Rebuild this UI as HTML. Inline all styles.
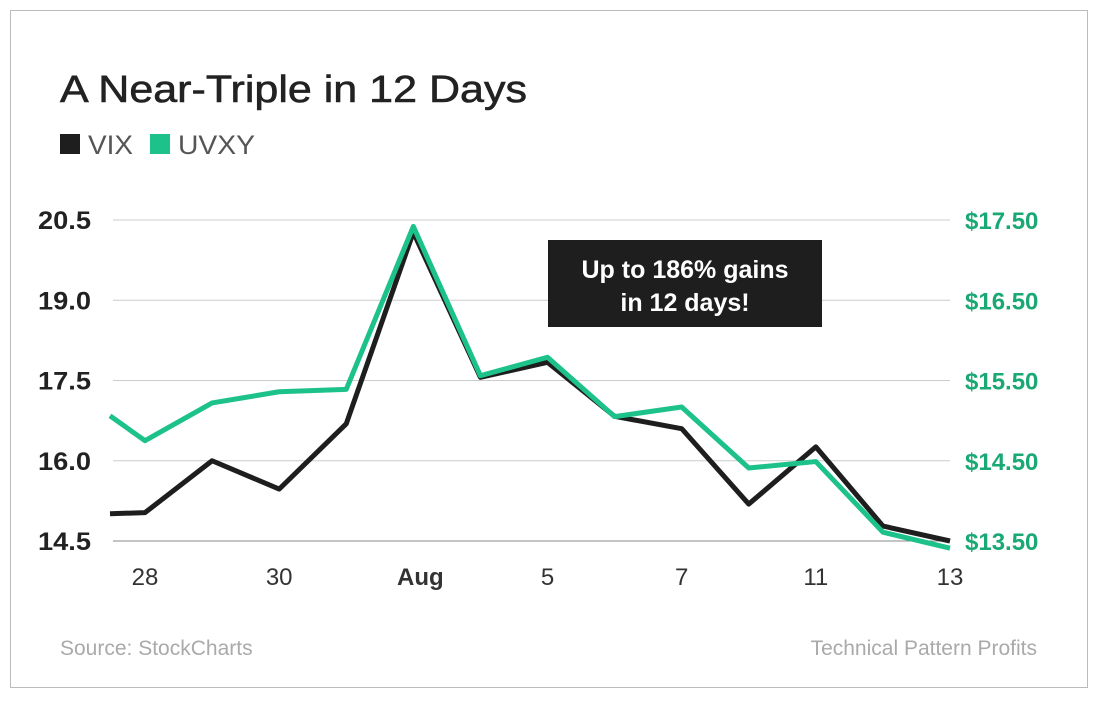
<!DOCTYPE html>
<html><head><meta charset="utf-8"><style>
body{margin:0;width:1100px;height:700px;background:#fff;font-family:"Liberation Sans",Arial,sans-serif;overflow:hidden}
</style></head><body>
<svg width="1100" height="700" xmlns="http://www.w3.org/2000/svg">
<rect x="10.5" y="10.5" width="1077" height="677" fill="#fff" stroke="#bbb"/>
<text x="60" y="102" font-size="38" fill="#222" stroke="#222" stroke-width="0.6" textLength="467" lengthAdjust="spacingAndGlyphs">A Near-Triple in 12 Days</text>
<rect x="60" y="134" width="20" height="20" fill="#1e1e1e"/>
<text x="88" y="154" font-size="27" fill="#555" textLength="45" lengthAdjust="spacingAndGlyphs">VIX</text>
<rect x="150" y="134" width="20" height="20" fill="#1dc28a"/>
<text x="178" y="154" font-size="27" fill="#555" textLength="77" lengthAdjust="spacingAndGlyphs">UVXY</text>
<g id="grid"></g><g id="axes"></g><g id="lines"></g>
<rect x="548" y="240" width="274" height="87" fill="#1e1e1e"/>
<text x="685" y="278" font-size="25" font-weight="bold" fill="#fff" text-anchor="middle">Up to 186% gains</text>
<text x="685" y="311" font-size="25" font-weight="bold" fill="#fff" text-anchor="middle">in 12 days!</text>
<text x="60" y="655" font-size="21" fill="#aaa">Source: StockCharts</text>
<text x="1037" y="655" font-size="21" fill="#aaa" text-anchor="end">Technical Pattern Profits</text>
</svg>
<script>
const categories=["Jul 27","Jul 28","Jul 29","Jul 30","Jul 31","Aug 1","Aug 2","Aug 5","Aug 6","Aug 7","Aug 8","Aug 11","Aug 12","Aug 13"];
const vixValues=[15.01,15.03,16.0,15.47,16.69,20.27,17.56,17.84,16.83,16.6,15.19,16.26,14.78,14.5];
const uvxyValues=[15.06,14.75,15.22,15.36,15.39,17.42,15.56,15.79,15.05,15.17,14.41,14.49,13.61,13.41];
const leftTicks=[14.5,16.0,17.5,19.0,20.5];
const rightTicks=[13.5,14.5,15.5,16.5,17.5];
const xLabels=[{i:1,t:"28"},{i:3,t:"30"},{i:5,t:"Aug",b:true},{i:7,t:"5"},{i:9,t:"7"},{i:11,t:"11"},{i:13,t:"13"}];
const NS="http://www.w3.org/2000/svg";
const x=i=>Math.max(110,145+(i-1)*(950-145)/(categories.length-2));
const yL=v=>541-(v-14.5)/6*321;
const yR=v=>541-(v-13.5)/4*321;
function mk(tag,attrs,parent,text){const e=document.createElementNS(NS,tag);for(const k in attrs)e.setAttribute(k,attrs[k]);if(text!==undefined)e.textContent=text;document.getElementById(parent).appendChild(e);return e;}
leftTicks.forEach((v,k)=>{
 const g=mk('line',{x1:113,x2:950,y1:yL(v),y2:yL(v),stroke:k==0?'#888':'#ccc','stroke-width':1},'grid');
 
 
 const t=mk('text',{x:91,y:yL(v)+9,'font-size':25,'font-weight':'bold',fill:'#222','text-anchor':'end',textLength:53,lengthAdjust:'spacingAndGlyphs'},'axes',v.toFixed(1));
 
 
});
rightTicks.forEach(v=>{
 const t=mk('text',{x:965,y:yR(v)+9,'font-size':24,'font-weight':'bold',fill:'#1aa874'},'axes','$'+v.toFixed(2));
 
 
});
xLabels.forEach(l=>{
 const t=mk('text',{x:x(l.i)+(l.b?7:0),y:585,'font-size':24,'font-weight':l.b?'bold':'normal',fill:'#333','text-anchor':'middle'},'axes',l.t);
 
 
});
const pv=vixValues.map((v,i)=>x(i)+','+yL(v)).join(' ');
const lv=mk('polyline',{points:pv,fill:'none',stroke:'#1e1e1e','stroke-width':5,'stroke-linejoin':'round'},'lines');


const pu=uvxyValues.map((v,i)=>x(i)+','+yR(v)).join(' ');
const lu=mk('polyline',{points:pu,fill:'none',stroke:'#1dc28a','stroke-width':5,'stroke-linejoin':'round'},'lines');


</script>
</body></html>
